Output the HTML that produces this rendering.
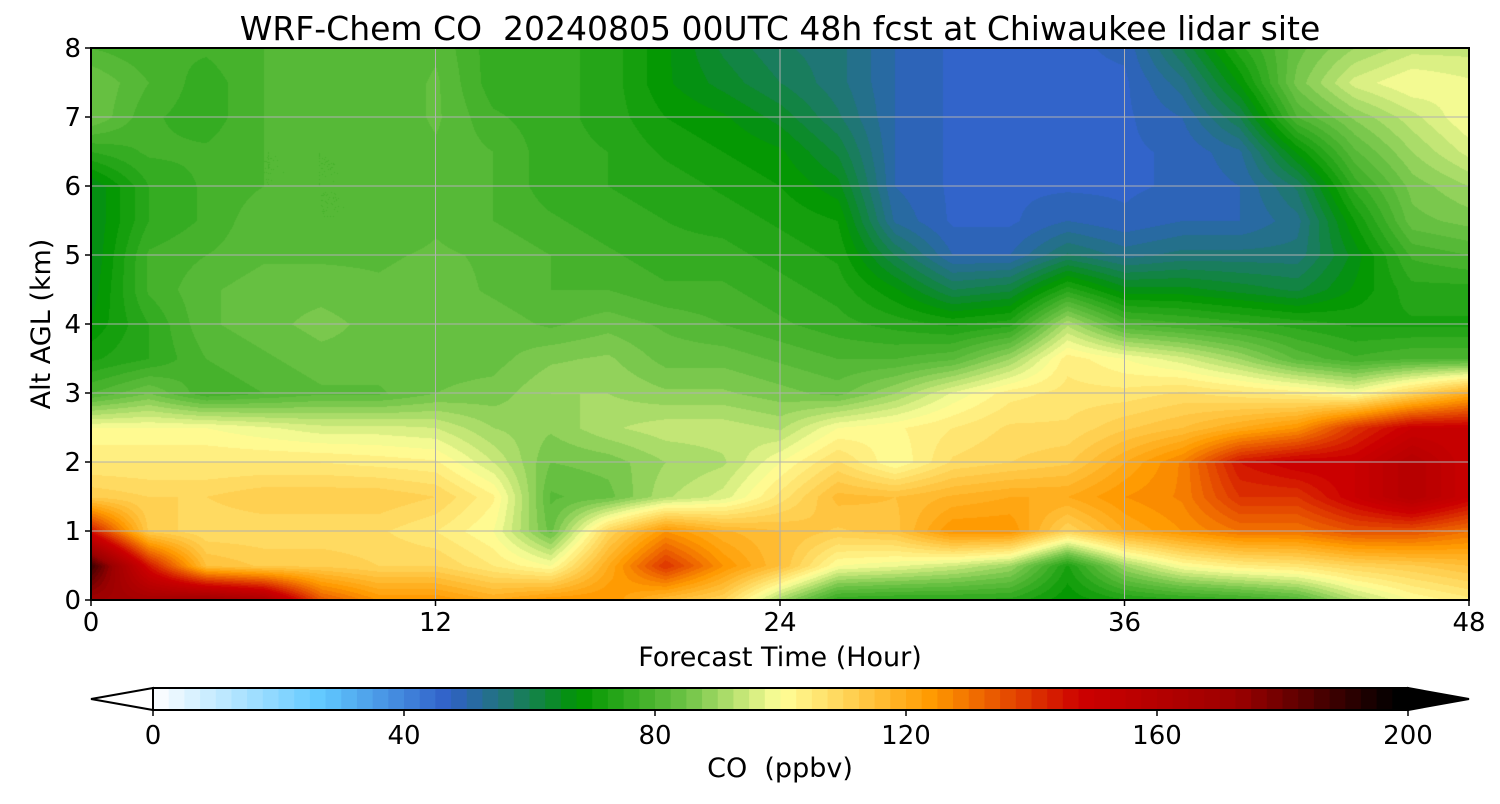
<!DOCTYPE html>
<html><head><meta charset="utf-8"><style>
body{margin:0;background:#fff;width:1500px;height:800px;overflow:hidden;font-family:"DejaVu Sans",sans-serif}
svg text{font-family:"DejaVu Sans",sans-serif;white-space:pre}
</style></head><body>
<svg width="1500" height="800" xmlns="http://www.w3.org/2000/svg">
<foreignObject x="91" y="48" width="1378" height="552"><canvas id="cv" width="1378" height="552" xmlns="http://www.w3.org/1999/xhtml" style="display:block"></canvas></foreignObject>
<g id="grid"></g>
<rect x="91" y="48" width="1378" height="552" fill="none" stroke="#000" stroke-width="2"/>
<text x="780" y="40" font-size="33" text-anchor="middle" xml:space="preserve">WRF-Chem CO  20240805 00UTC 48h fcst at Chiwaukee lidar site</text>
<g id="xt"></g>
<g id="yt"></g>
<text x="780" y="666" font-size="27" text-anchor="middle">Forecast Time (Hour)</text>
<text transform="translate(50,324) rotate(-90)" font-size="27" text-anchor="middle">Alt AGL (km)</text>
<g id="cb"></g>
<text x="780" y="777" font-size="27" text-anchor="middle" xml:space="preserve">CO  (ppbv)</text>
</svg>
<script>
const hours=[0,2,4,6,8,10,12,14,16,18,20,22,24,26,28,30,32,34,36,38,40,42,44,46,48];
const heights=[0,0.5,1,1.5,2,2.5,3,3.5,4,4.5,5,5.5,6,6.5,7,7.5,8];
const co=[
[170,188,145,112,105,100,80,72,68,66,65,65,65,75,85,85,80],
[168,145,112,110,105,100,85,75,75,78,78,75,75,78,78,80,78],
[172,115,108,110,105,100,78,80,82,82,80,78,78,78,76,76,78],
[165,112,108,112,105,98,80,82,84,84,82,82,80,80,80,80,80],
[135,112,108,112,105,96,82,84,86,84,82,80,80,80,82,82,80],
[125,110,108,112,104,96,82,84,84,83,82,80,80,80,80,80,80],
[125,110,105,110,103,95,85,84,85,84,83,82,82,82,83,83,82],
[120,105,100,103,95,90,86,84,84,82,82,80,80,80,78,76,76],
[125,100,84,82,85,88,90,87,82,80,80,78,76,76,76,76,76],
[125,120,110,84,86,92,90,88,84,80,78,76,75,75,74,74,74],
[115,140,125,92,90,94,88,84,82,78,76,75,74,72,70,68,68],
[110,125,118,96,92,94,88,84,80,78,76,74,72,70,68,64,62],
[90,115,115,106,100,92,86,82,78,76,74,72,70,68,64,60,58],
[75,100,112,116,108,100,84,80,76,74,72,70,66,62,58,56,56],
[74,98,114,115,100,102,90,80,74,68,60,52,50,50,50,50,50],
[74,95,125,118,108,105,98,82,72,60,50,47,47,47,47,47,47],
[74,90,125,120,110,108,104,90,74,62,50,47,47,47,47,47,47],
[68,72,110,120,112,108,106,104,92,74,58,50,47,47,47,47,47],
[72,90,120,125,120,112,106,100,80,66,54,48,47,47,47,47,48],
[74,100,125,128,128,115,108,96,78,66,56,50,48,48,50,54,60],
[76,104,130,140,145,120,106,90,76,64,56,50,50,52,60,68,74],
[80,106,130,140,150,125,104,82,74,62,56,54,58,68,80,86,84],
[92,110,135,150,150,140,100,78,72,68,66,70,76,82,88,96,90],
[100,112,135,160,160,150,110,80,72,74,78,84,86,90,94,100,94],
[104,115,130,150,150,150,120,80,72,74,80,86,90,96,100,98,94]];
const xTicks=[0,12,24,36,48];
const yTicks=[0,1,2,3,4,5,6,7,8];
const cbTicks=[0,40,80,120,160,200];
const stops=[[0,255,255,255],[27,96,200,255],[47,48,96,200],[57,30,120,110],[68,0,150,0],[85,110,195,70],[100,255,255,153],[124,255,154,0],[148,204,0,0],[173,154,0,0],[198,0,0,0],[200,0,0,0]];
const X0=91,X1=1469,Y0=600,Y1=48;
const sx=h=>X0+(h-0)/48*(X1-X0), sy=k=>Y0-(k/8)*(Y0-Y1);
const cbx=v=>153+v/200*(1408-153);
function col(v){v=Math.max(0,Math.min(200,v));for(let i=0;i<stops.length-1;i++){const a=stops[i],b=stops[i+1];if(v<=b[0]){const t=(v-a[0])/(b[0]-a[0]);return [0,1,2].map(j=>Math.round(a[j+1]+(b[j+1]-a[j+1])*t));}}return [0,0,0];}
function q(v){return Math.floor(v/2.5)*2.5+1.25;}
function val(h,k){let i=Math.min(hours.length-2,Math.max(0,hours.findIndex((x,n)=>h>=x&&h<=hours[n+1])));let j=Math.min(heights.length-2,Math.max(0,heights.findIndex((x,n)=>k>=x&&k<=heights[n+1])));const tx=(h-hours[i])/(hours[i+1]-hours[i]),ty=(k-heights[j])/(heights[j+1]-heights[j]);return co[i][j]*(1-tx)*(1-ty)+co[i+1][j]*tx*(1-ty)+co[i][j+1]*(1-tx)*ty+co[i+1][j+1]*tx*ty;}
const cv=document.getElementById('cv'),ctx=cv.getContext('2d');const img=ctx.createImageData(cv.width,cv.height);
for(let py=0;py<cv.height;py++){const k=(cv.height-py)/cv.height*8;for(let px=0;px<cv.width;px++){const h=px/cv.width*48;const c=col(q(val(h,k)));const o=(py*cv.width+px)*4;img.data[o]=c[0];img.data[o+1]=c[1];img.data[o+2]=c[2];img.data[o+3]=255;}}
ctx.putImageData(img,0,0);
const NS='http://www.w3.org/2000/svg';
function mk(t,a,p){const e=document.createElementNS(NS,t);for(const k in a)e.setAttribute(k,a[k]);p.appendChild(e);return e;}
const g=document.getElementById('grid'),xt=document.getElementById('xt'),yt=document.getElementById('yt'),cb=document.getElementById('cb');
xTicks.forEach(t=>{const l=mk('line',{x1:sx(t),x2:sx(t),y1:Y1,y2:Y0,stroke:'#b0b0b0','stroke-width':1},g);


const tk=mk('line',{x1:sx(t),x2:sx(t),y1:Y0,y2:Y0+6,stroke:'#000','stroke-width':1.5},xt);


const tx=mk('text',{x:sx(t),y:Y0+31,'font-size':26,'text-anchor':'middle'},xt);tx.textContent=t;

});
yTicks.forEach(t=>{const l=mk('line',{x1:X0,x2:X1,y1:sy(t),y2:sy(t),stroke:'#b0b0b0','stroke-width':1},g);


const tk=mk('line',{x1:X0-6,x2:X0,y1:sy(t),y2:sy(t),stroke:'#000','stroke-width':1.5},yt);


const tx=mk('text',{x:X0-10,y:sy(t)+9,'font-size':26,'text-anchor':'end'},yt);tx.textContent=t;

});
for(let v=0;v<200;v+=2.5){const c=col(v+1.25);const r=mk('rect',{x:cbx(v),y:688,width:cbx(v+2.5)-cbx(v)+0.6,height:22,fill:`rgb(${c})`},cb);

}
const lt=mk('polygon',{points:`153,688 91,699 153,710`,fill:'#fff',stroke:'#000','stroke-width':2},cb);


const rt=mk('polygon',{points:`1408,688 1469,699 1408,710`,fill:'#000',stroke:'#000','stroke-width':2},cb);


const fr=mk('rect',{x:153,y:688,width:1255,height:22,fill:'none',stroke:'#000','stroke-width':2},cb);


cbTicks.forEach(t=>{const tk=mk('line',{x1:cbx(t),x2:cbx(t),y1:710,y2:716,stroke:'#000','stroke-width':1.5},cb);


const tx=mk('text',{x:cbx(t),y:744,'font-size':26,'text-anchor':'middle'},cb);tx.textContent=t;

});
</script>
</body></html>
